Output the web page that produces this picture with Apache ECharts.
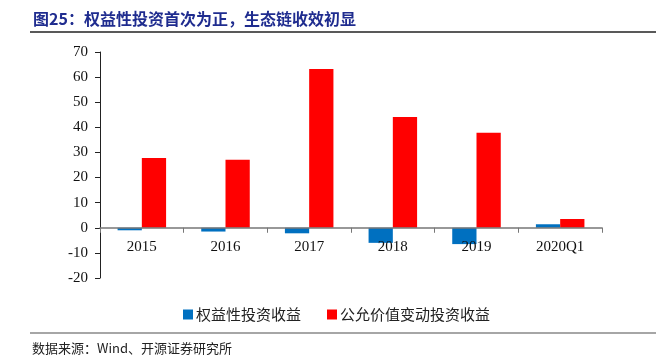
<!DOCTYPE html>
<html><head><meta charset="utf-8">
<script src="https://cdn.jsdelivr.net/npm/echarts@6/dist/echarts.min.js"></script>
<style>html,body{margin:0;padding:0;background:#fff}#c{width:656px;height:363px}</style>
</head><body><div id="c"></div>
<script>
const categories = ['2015','2016','2017','2018','2019','2020Q1'];
const equityInvest = [-1.0, -1.5, -2.2, -6.0, -6.5, 1.4];
const fairValueInvest = [27.8, 27.1, 63.2, 44.1, 37.8, 3.5];
const seriesNames = ['权益性投资收益','公允价值变动投资收益'];
const yTicks = {min: -20, max: 70, interval: 10};

const chart = echarts.init(document.getElementById('c'));
chart.setOption({
  animation: false,
  backgroundColor: '#fff',
  title: {
    text: '图25：权益性投资首次为正，生态链收效初显',
    left: 28, top: 6,
    textStyle: {color: '#1F2C8F', fontSize: 16, fontWeight: 'bold', fontFamily: 'Noto Sans CJK SC'}
  },
  graphic: [
    {type: 'line', shape: {x1: 30, y1: 32, x2: 656, y2: 32}, style: {stroke: '#222', lineWidth: 1.5}},
    {type: 'line', shape: {x1: 30, y1: 333, x2: 656, y2: 333}, style: {stroke: '#888', lineWidth: 1.5}},
    {type: 'text', left: 32, top: 342, style: {text: '数据来源：Wind、开源证券研究所', fill: '#222', font: '13px "Noto Sans CJK SC"'}}
  ],
  legend: {
    left: 178, top: 302,
    itemWidth: 10, itemHeight: 10, itemGap: 26,
    icon: 'rect',
    textStyle: {fontSize: 15, color: '#222', fontFamily: 'Noto Sans CJK SC', padding: [0,0,0,-2]},
    data: seriesNames
  },
  grid: {left: 100, right: 54, top: 52, bottom: 85},
  xAxis: {
    type: 'category', data: categories, z: 10,
    axisLine: {onZero: true, lineStyle: {color: '#777', width: 1.5}},
    axisTick: {show: true, length: 5, lineStyle: {color: '#777'}},
    axisLabel: {fontSize: 15, color: '#111', fontFamily: 'Liberation Serif', margin: -38},
    splitLine: {show: false}
  },
  yAxis: {
    type: 'value', min: yTicks.min, max: yTicks.max, interval: yTicks.interval,
    axisLine: {show: true, lineStyle: {color: '#222', width: 1}},
    axisTick: {show: true, inside: false, length: 5, lineStyle: {color: '#222'}},
    axisLabel: {fontSize: 15, color: '#111', fontFamily: 'Liberation Serif', margin: 12},
    splitLine: {show: false}
  },
  series: [
    {name: seriesNames[0], type: 'bar', z: 1, data: equityInvest, itemStyle: {color: '#0070C0'}, barGap: '0%', barCategoryGap: '42%'},
    {name: seriesNames[1], type: 'bar', z: 1, data: fairValueInvest, itemStyle: {color: '#FF0000'}, barGap: '0%', barCategoryGap: '42%'}
  ]
});
</script></body></html>
